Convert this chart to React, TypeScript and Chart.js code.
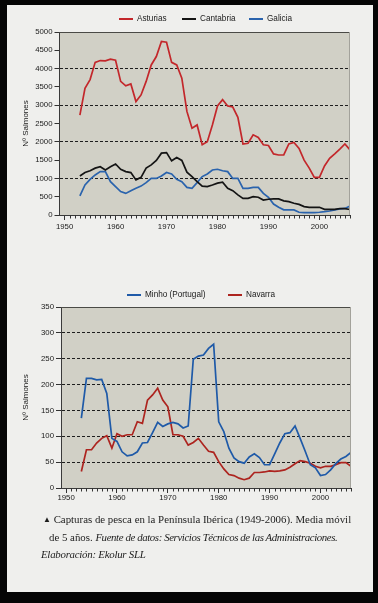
import React, { useEffect, useRef } from 'react';
import { Chart, registerables } from 'chart.js';
Chart.register(...registerables);

const years = [1953, 1954, 1955, 1956, 1957, 1958, 1959, 1960, 1961, 1962, 1963, 1964, 1965, 1966, 1967, 1968, 1969, 1970, 1971, 1972, 1973, 1974, 1975, 1976, 1977, 1978, 1979, 1980, 1981, 1982, 1983, 1984, 1985, 1986, 1987, 1988, 1989, 1990, 1991, 1992, 1993, 1994, 1995, 1996, 1997, 1998, 1999, 2000, 2001, 2002, 2003, 2004, 2005, 2006];
const decadeTicks = [1950, 1960, 1970, 1980, 1990, 2000];

const asturias = [2730, 3460, 3700, 4170, 4220, 4210, 4260, 4230, 3650, 3530, 3580, 3100, 3280, 3650, 4100, 4330, 4740, 4720, 4170, 4100, 3740, 2830, 2370, 2460, 1920, 2000, 2460, 2980, 3150, 2980, 2950, 2670, 1940, 1960, 2190, 2120, 1920, 1900, 1670, 1640, 1640, 1940, 1980, 1820, 1500, 1280, 1030, 1030, 1340, 1550, 1670, 1800, 1940, 1780];
const cantabria = [1067, 1160, 1210, 1280, 1320, 1230, 1320, 1395, 1250, 1185, 1160, 960, 1030, 1280, 1370, 1490, 1690, 1705, 1480, 1570, 1490, 1170, 1050, 910, 790, 775, 820, 870, 895, 730, 665, 550, 455, 455, 500, 485, 410, 430, 440, 440, 385, 365, 320, 290, 230, 210, 210, 210, 155, 155, 155, 175, 175, 150];
const galicia = [520, 820, 975, 1095, 1185, 1185, 910, 775, 640, 590, 665, 730, 790, 885, 1000, 1000, 1065, 1160, 1120, 975, 910, 755, 730, 885, 1050, 1120, 1230, 1250, 1210, 1185, 1000, 1000, 730, 730, 755, 755, 590, 485, 300, 210, 140, 140, 140, 75, 65, 65, 65, 75, 90, 110, 140, 165, 180, 245];
const minho = [135, 212, 212, 209, 210, 183, 96, 90, 70, 62, 64, 70, 87, 88, 107, 127, 119, 124, 127, 124, 116, 120, 249, 255, 257, 270, 278, 128, 109, 77, 58, 51, 48, 60, 66, 59, 45, 45, 66, 87, 105, 107, 120, 96, 71, 45, 39, 24, 26, 35, 47, 56, 61, 69];
const navarra = [32, 74, 74, 87, 96, 101, 77, 105, 100, 103, 103, 128, 125, 170, 180, 193, 170, 157, 103, 103, 100, 83, 88, 96, 83, 71, 69, 51, 37, 26, 24, 19, 16, 19, 30, 30, 31, 33, 32, 33, 35, 40, 47, 53, 51, 48, 42, 39, 42, 42, 45, 49, 49, 42];

const topLabels = ['Asturias', 'Cantabria', 'Galicia'];
const bottomLabels = ['Minho (Portugal)', 'Navarra'];
const yTitle = 'Nº Salmones';

const C_AST = '#c3272b';
const C_CAN = '#141414';
const C_GAL = '#2a63ad';
const C_MIN = '#1f5aa8';
const C_NAV = '#ad241f';
const PLOT_BG = '#d1d0c6';
const TICK_FONT = { family: 'Liberation Sans', size: 7.8 };

const toPts = (vals: number[]) => vals.map((v, i) => ({ x: years[i], y: v }));

const framePlugin = {
  id: 'frame',
  beforeDraw(chart: any) {
    const { ctx, chartArea: a } = chart;
    ctx.save();
    ctx.fillStyle = PLOT_BG;
    ctx.fillRect(a.left, a.top, a.right - a.left, a.bottom - a.top);
    ctx.restore();
  },
  afterDraw(chart: any) {
    const { ctx, chartArea: a } = chart;
    const xs = chart.scales.x;
    ctx.save();
    ctx.lineWidth = 1;
    ctx.strokeStyle = '#4a4a46';
    ctx.beginPath();
    ctx.moveTo(a.left, Math.round(a.top) + 0.5);
    ctx.lineTo(a.right, Math.round(a.top) + 0.5);
    ctx.stroke();
    ctx.strokeStyle = '#a3a29b';
    ctx.beginPath();
    ctx.moveTo(Math.round(a.right) - 0.5, a.top);
    ctx.lineTo(Math.round(a.right) - 0.5, a.bottom);
    ctx.stroke();
    ctx.strokeStyle = '#333';
    ctx.beginPath();
    for (let yr = 1950; yr <= 2006; yr++) {
      if (yr % 10 === 0) continue;
      const px = Math.round(xs.getPixelForValue(yr)) + 0.5;
      ctx.moveTo(px, a.bottom);
      ctx.lineTo(px, a.bottom + 3.5);
    }
    ctx.stroke();
    ctx.restore();
  },
};

function makeConfig(datasets: any[], yMax: number, yStep: number, gridStep: number, pad: any, yWidth: number, xPad: number) {
  return {
    type: 'line',
    data: { datasets },
    plugins: [framePlugin],
    options: {
      responsive: false,
      animation: false,
      layout: { padding: pad },
      plugins: { legend: { display: false }, tooltip: { enabled: false } },
      elements: { point: { radius: 0 }, line: { tension: 0, borderWidth: 1.7 } },
      scales: {
        x: {
          type: 'linear',
          min: 1949,
          max: 2006,
          afterBuildTicks: (s: any) => { s.ticks = decadeTicks.map((v) => ({ value: v })); },
          afterFit: (s: any) => { s.height = 25; },
          ticks: { font: TICK_FONT, color: '#1a1a1a', padding: xPad, maxRotation: 0, autoSkip: false, callback: (v: any) => String(v) },
          grid: { drawOnChartArea: false, tickLength: 5, tickColor: '#333' },
          border: { color: '#3a3a3a', width: 1 },
        },
        y: {
          min: 0,
          max: yMax,
          afterFit: (s: any) => { s.width = yWidth; },
          ticks: { stepSize: yStep, font: TICK_FONT, color: '#1a1a1a', padding: 2, callback: (v: any) => String(v) },
          title: { display: true, text: yTitle, font: { family: 'Liberation Sans', size: 8 }, color: '#1a1a1a', padding: { top: 0, bottom: 0 } },
          grid: {
            color: (c: any) => (c.tick && c.tick.value % gridStep === 0 && c.tick.value > 0 && c.tick.value < yMax ? '#1e1e1e' : 'rgba(0,0,0,0)'),
            tickColor: '#333',
            tickLength: 5,
            lineWidth: 1,
          },
          border: { color: '#3a3a3a', width: 1, dash: [3, 2] },
        },
      },
    },
  };
}

function ChartCanvas({ top, height, config }: { top: number; height: number; config: () => any }) {
  const ref = useRef<HTMLCanvasElement | null>(null);
  useEffect(() => {
    if (!ref.current) return;
    const ch = new Chart(ref.current, config());
    return () => ch.destroy();
  }, []);
  return <canvas ref={ref} width={378} height={height} style={{ position: 'absolute', left: 0, top, width: 378, height }} />;
}

function LegendItem({ x, y, color, label }: { x: number; y: number; color: string; label: string }) {
  return (
    <div style={{ position: 'absolute', left: x, top: y - 6, height: 12, display: 'flex', alignItems: 'center', whiteSpace: 'nowrap' }}>
      <div style={{ width: 14, height: 2.5, background: color, marginRight: 4 }} />
      <span style={{ font: '8.2px "Liberation Sans", Arial, sans-serif', color: '#1a1a1a', lineHeight: '12px' }}>{label}</span>
    </div>
  );
}

export default function App() {
  const topConfig = () =>
    makeConfig(
      [
        { label: topLabels[0], data: toPts(asturias), borderColor: C_AST, backgroundColor: C_AST },
        { label: topLabels[1], data: toPts(cantabria), borderColor: C_CAN, backgroundColor: C_CAN },
        { label: topLabels[2], data: toPts(galicia), borderColor: C_GAL, backgroundColor: C_GAL },
      ],
      5000, 500, 1000,
      { top: 32, left: 21, right: 28, bottom: 0 },
      38.5, 2
    );
  const bottomConfig = () =>
    makeConfig(
      [
        { label: bottomLabels[0], data: toPts(minho), borderColor: C_MIN, backgroundColor: C_MIN },
        { label: bottomLabels[1], data: toPts(navarra), borderColor: C_NAV, backgroundColor: C_NAV },
      ],
      350, 50, 50,
      { top: 47, left: 21, right: 27, bottom: 0 },
      40, 0
    );

  const serif = '"Liberation Serif", "DejaVu Serif", serif';
  const fs = '10.85px';
  return (
    <div style={{ position: 'absolute', left: 0, top: 0, width: 378, height: 603, background: '#050505', overflow: 'hidden' }}>
      <div style={{ position: 'absolute', left: 7, top: 5, width: 366, height: 587, background: '#efefed' }} />
      <ChartCanvas top={0} height={240} config={topConfig} />
      <ChartCanvas top={260} height={253} config={bottomConfig} />
      <LegendItem x={119} y={19} color={C_AST} label={topLabels[0]} />
      <LegendItem x={182} y={19} color={C_CAN} label={topLabels[1]} />
      <LegendItem x={249} y={19} color={C_GAL} label={topLabels[2]} />
      <LegendItem x={127} y={295} color={C_MIN} label={bottomLabels[0]} />
      <LegendItem x={228} y={295} color={C_NAV} label={bottomLabels[1]} />
      <div style={{ position: 'absolute', left: 43, top: 512, font: `${fs} ${serif}`, color: '#1c1c1c', whiteSpace: 'nowrap', lineHeight: '14px' }}>
        <span style={{ fontSize: 8, verticalAlign: 1 }}>▲</span> Capturas de pesca en la Península Ibérica (1949-2006). Media móvil
      </div>
      <div style={{ position: 'absolute', left: 49, top: 530, font: `${fs} ${serif}`, color: '#1c1c1c', whiteSpace: 'nowrap', lineHeight: '14px' }}>
        de 5 años. <i style={{ letterSpacing: '-0.4px' }}>Fuente de datos: Servicios Técnicos de las Administraciones.</i>
      </div>
      <div style={{ position: 'absolute', left: 41, top: 547, font: `italic ${fs} ${serif}`, color: '#1c1c1c', whiteSpace: 'nowrap', lineHeight: '14px', letterSpacing: '-0.25px' }}>
        Elaboración: Ekolur SLL
      </div>
    </div>
  );
}
